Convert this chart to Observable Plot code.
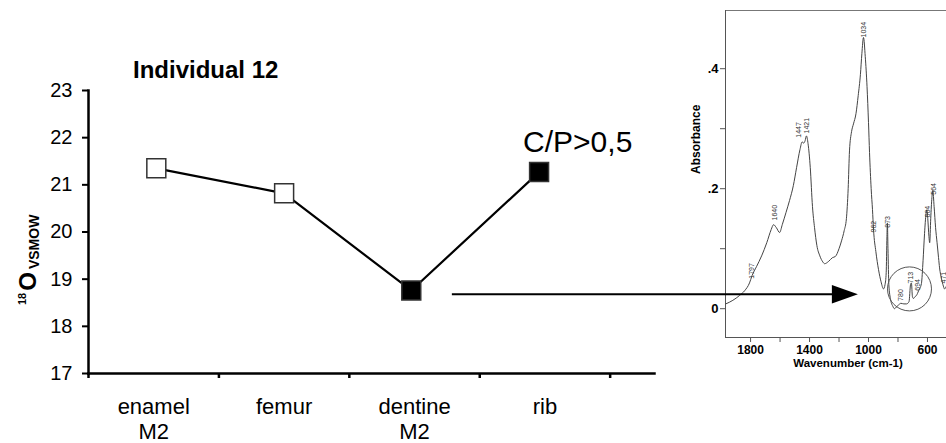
<!DOCTYPE html>
<html>
<head>
<meta charset="utf-8">
<script src="https://cdn.jsdelivr.net/npm/d3@7"></script>
<script src="https://cdn.jsdelivr.net/npm/@observablehq/plot@0.6"></script>
<style>
  html, body { margin: 0; padding: 0; background: #fff; overflow: hidden; }
  #wrap { position: relative; width: 946px; height: 443px; font-family: "Liberation Sans", Arial, sans-serif; }
  #spec { position: absolute; left: 680px; top: 0; }
  #main { position: absolute; left: 0; top: 0; }
  #title { position: absolute; left: 133px; top: 56px; font: bold 24px "Liberation Sans", Arial, sans-serif; color: #000; }
</style>
</head>
<body>
<div id="wrap">
  <div id="spec"></div>
  <div id="main"></div>
  <div id="title">Individual 12</div>
</div>
<script>
// ---- main chart data ----
const categories = ["enamel\nM2", "femur", "dentine\nM2", "rib"];
const categoryPos = [0.5, 1.5, 2.5, 3.5];
const samplePos = [0.52, 1.5, 2.475, 3.455];
const d18O = [21.35, 20.82, 18.76, 21.27];
const markerType = ["open", "open", "filled", "filled"];
const yTicks = [17, 18, 19, 20, 21, 22, 23];
const xTicks = [0, 1, 2, 3, 4];
const annotationText = "C/P>0,5";
const arrowStart = 2.79;
const arrowEnd = 5.8;
const arrowLevel = 18.68;

// ---- FTIR spectrum data ----
const wavenumber = [1968,1920,1875,1840,1807,1790,1760,1725,1690,1660,1644,1625,1603,1585,1560,1536,1510,1488,1465,1450,1440,1430,1421,1410,1395,1380,1366,1350,1330,1310,1298,1270,1245,1225,1200,1183,1165,1150,1138,1129,1115,1102,1085,1070,1055,1045,1034,1022,1010,1000,993,982,973,966,950,932,915,898,888,880,875,872,868,862,850,835,824,810,797,780,760,742,725,715,709,702,695,685,675,660,641,630,620,610,604,598,590,585,578,570,564,555,545,535,525,518,505,495,484,471];
const absorbance = [0.008,0.014,0.022,0.030,0.043,0.055,0.070,0.088,0.110,0.132,0.140,0.135,0.127,0.140,0.160,0.180,0.205,0.235,0.265,0.278,0.276,0.280,0.288,0.275,0.235,0.170,0.135,0.105,0.088,0.078,0.075,0.079,0.085,0.087,0.100,0.113,0.130,0.150,0.200,0.263,0.295,0.308,0.325,0.355,0.390,0.425,0.452,0.420,0.370,0.310,0.260,0.200,0.165,0.132,0.095,0.065,0.045,0.033,0.040,0.060,0.120,0.143,0.100,0.040,0.015,0.004,0.000,0.003,0.006,0.009,0.008,0.008,0.012,0.040,0.043,0.020,0.017,0.020,0.022,0.030,0.042,0.080,0.125,0.158,0.165,0.150,0.120,0.110,0.150,0.185,0.197,0.170,0.135,0.110,0.085,0.068,0.050,0.040,0.033,0.038];
const peakLabels = ["1797","1640","1447","1421","1034","962","873","780","713","694","604","564","471"];
const peakLabelX = [1793,1637,1475,1420,1034,966,871,783,715,668,600,559,492];
const peakLabelY = [0.050,0.147,0.285,0.292,0.452,0.127,0.135,0.013,0.042,0.030,0.152,0.190,0.042];
const circleCenter = {wn: 722, abs: 0.033};
const specXTicks = [1800, 1600, 1400, 1200, 1000, 800, 600];
const specXLabelled = [1800, 1400, 1000, 600];
const specYTicks = [0, 0.1, 0.2, 0.3, 0.4];
const specYLabels = {0: "0", 0.2: ".2", 0.4: ".4"};
const specXTitle = "Wavenumber (cm-1)";
const specYTitle = "Absorbance";

const font = "Liberation Sans, Arial, sans-serif";

// ---- spectrum ----
const spectrum = wavenumber.map((w, i) => ({w, a: absorbance[i]}));
const peaks = peakLabels.map((t, i) => ({t, w: peakLabelX[i], a: peakLabelY[i]}));
const spec = Plot.plot({
  width: 266, height: 380,
  marginLeft: 45, marginRight: 0, marginTop: 10, marginBottom: 43,
  style: {background: "transparent", fontFamily: font, overflow: "visible"},
  x: {domain: [1970, 471]},
  y: {domain: [-0.048, 0.497]},
  marks: [
    Plot.frame({anchor: "top", stroke: "#777"}),
    Plot.frame({anchor: "left", stroke: "#555"}),
    Plot.frame({anchor: "bottom", stroke: "#555"}),
    Plot.axisY({ticks: specYTicks, tickSize: 5, tickPadding: 2, stroke: "#555",
      tickFormat: d => specYLabels[d] ?? "", fontSize: 13, fontWeight: "bold", label: null}),
    Plot.axisX({ticks: specXTicks, tickSize: 5, tickPadding: 3, stroke: "#555",
      tickFormat: d => specXLabelled.includes(d) ? String(d) : "", fontSize: 12, fontWeight: "bold", label: null}),
    Plot.line(spectrum, {x: "w", y: "a", stroke: "#444", strokeWidth: 1, curve: "monotone-x"}),
    Plot.text(peaks, {x: "w", y: "a", text: "t", rotate: -90, textAnchor: "start", fontSize: 7, fill: "#333"}),
    Plot.dot([circleCenter], {x: "wn", y: "abs", r: 22, stroke: "#555", strokeWidth: 1, fill: "none"}),
    Plot.text([specXTitle], {frameAnchor: "bottom", text: d => d, dx: 12, dy: 29, fontSize: 11.5, fontWeight: "bold"}),
    Plot.text([specYTitle], {frameAnchor: "left", text: d => d, rotate: -90, dx: -29, fontSize: 12, fontWeight: "bold"})
  ]
});
document.getElementById("spec").appendChild(spec);

// ---- main chart ----
const samples = categories.map((c, i) => ({c, x: samplePos[i], y: d18O[i], type: markerType[i]}));
const labels = categories.map((c, i) => ({c, x: categoryPos[i]}));
const arrowHead = {
  draw(ctx, size) {
    const r = Math.sqrt(size / Math.PI);
    ctx.moveTo(r, 0);
    ctx.lineTo(-r, -0.72 * r);
    ctx.lineTo(-r, 0.72 * r);
    ctx.closePath();
  }
};
const main = Plot.plot({
  width: 946, height: 443,
  marginLeft: 88, marginRight: 292, marginTop: 90, marginBottom: 70,
  style: {background: "transparent", fontFamily: font, overflow: "visible"},
  x: {domain: [0, 4.34]},
  y: {domain: [17, 23]},
  marks: [
    Plot.frame({anchor: "left", stroke: "#000", strokeWidth: 2.5}),
    Plot.frame({anchor: "bottom", stroke: "#000", strokeWidth: 2.5}),
    Plot.axisY({ticks: yTicks, tickSize: 6, tickPadding: 10, strokeWidth: 2, fontSize: 20, fill: "#000",
      tickFormat: d => String(d), label: null}),
    Plot.axisX({ticks: xTicks, tickSize: 5, strokeWidth: 2.5, tickFormat: () => "", label: null}),
    Plot.text(labels, {x: "x", y: () => 17, text: "c", lineAnchor: "top", dy: 23, fontSize: 22, lineHeight: 1.13, fill: "#000"}),
    Plot.ruleY([arrowLevel], {x1: arrowStart, x2: arrowEnd, stroke: "#000", strokeWidth: 2}),
    Plot.dot([arrowEnd], {x: d => d, y: () => arrowLevel, symbol: arrowHead, r: 13, fill: "#000", stroke: "none"}),
    Plot.line(samples, {x: "x", y: "y", stroke: "#000", strokeWidth: 2.2}),
    Plot.dot(samples, {x: "x", y: "y", symbol: "square", r: 10.7,
      fill: d => d.type === "filled" ? "#000" : "#fff", stroke: "#333", strokeWidth: 1.5}),
    Plot.text(samples.filter((d, i) => i === samples.length - 1), {x: "x", y: "y", text: () => annotationText,
      textAnchor: "start", dx: -16, dy: -30, fontSize: 30, fill: "#000"})
  ]
});
document.getElementById("main").appendChild(main);

// y-axis title with superscript / subscript
const svg = d3.select(main);
const yt = svg.append("text")
  .attr("transform", "translate(36,305) rotate(-90)")
  .attr("text-anchor", "start")
  .attr("font-family", font)
  .attr("font-weight", "bold")
  .attr("fill", "#000");
yt.append("tspan").attr("font-size", 11).attr("dy", -10).text("18");
yt.append("tspan").attr("font-size", 24).attr("dy", 10).attr("dx", 2).text("O");
yt.append("tspan").attr("font-size", 14).attr("dy", 3).attr("dx", 3).text("VSMOW");
</script>
</body>
</html>
